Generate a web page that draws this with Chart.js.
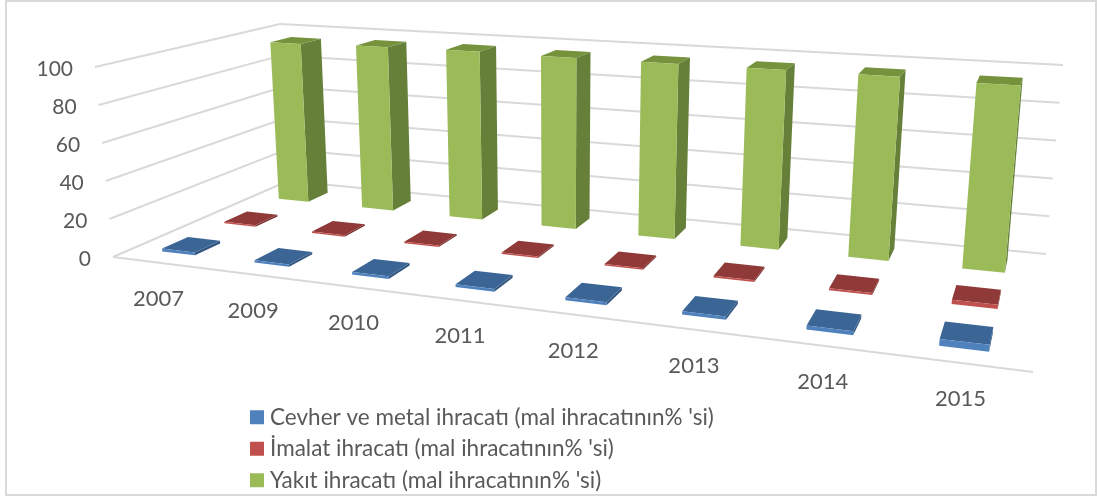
<!DOCTYPE html>
<html>
<head>
<meta charset="utf-8">
<style>
  html, body { margin: 0; padding: 0; background: #fff; }
  canvas { display: block; }
</style>
<script src="https://cdn.jsdelivr.net/npm/chart.js@4"></script>
</head>
<body>
<canvas id="exportChart" width="1097" height="497"></canvas>
<script>
const years = ['2007', '2009', '2010', '2011', '2012', '2013', '2014', '2015'];
const oreMetal = [1.5, 1.2, 1.3, 1.3, 1.5, 1.5, 1.8, 3.0];
const manufactures = [0.9, 0.8, 0.8, 0.8, 0.8, 0.9, 1.0, 2.0];
const fuel = [95, 96, 96.5, 96, 96, 96, 96, 95];

const seriesNames = [
    'Cevher ve metal ihracatı (mal ihracatının% \'si)',
    'İmalat ihracatı (mal ihracatının% \'si)',
    'Yakıt ihracatı (mal ihracatının% \'si)'
];
const frontColors = ['#4f81bd', '#c0504d', '#9bbb59'];
const topColors = ['#3b6595', '#8f3a38', '#76923c'];
const sideColors = ['#335780', '#7a3130', '#66803a'];

const gridColor = '#d9d9d9';
const textColor = '#595959';
const fontFamily = 'Lato';

// corners of the 3d box on screen: front left, front right, back right, back left
const floorQuad = [[113, 257], [1033, 372], [1046, 254], [288, 181]];
const roofQuad = [[95, 67], [1057, 133], [1063, 65], [280, 24]];

function makeHomography(q) {
    const [x0, y0] = q[0], [x1, y1] = q[1], [x2, y2] = q[2], [x3, y3] = q[3];
    const dx1 = x1 - x2, dx2 = x3 - x2, sx = x0 - x1 + x2 - x3;
    const dy1 = y1 - y2, dy2 = y3 - y2, sy = y0 - y1 + y2 - y3;
    const det = dx1 * dy2 - dx2 * dy1;
    const g = (sx * dy2 - dx2 * sy) / det;
    const h = (dx1 * sy - sx * dy1) / det;
    const a = x1 - x0 + g * x1, b = x3 - x0 + h * x3;
    const d = y1 - y0 + g * y1, e = y3 - y0 + h * y3;
    return function (u, v) {
        const w = g * u + h * v + 1;
        return [(a * u + b * v + x0) / w, (d * u + e * v + y0) / w];
    };
}

const floorMap = makeHomography(floorQuad);
const roofMap = makeHomography(roofQuad);

// u across the years, v into the depth, t height from 0 to 1
function project(u, v, t) {
    const p = floorMap(u, v), q = roofMap(u, v);
    return [p[0] + (q[0] - p[0]) * t, p[1] + (q[1] - p[1]) * t];
}

function fillFace(ctx, pts, color) {
    ctx.beginPath();
    pts.forEach((p, i) => i ? ctx.lineTo(p[0], p[1]) : ctx.moveTo(p[0], p[1]));
    ctx.closePath();
    ctx.fillStyle = color;
    ctx.fill();
}

function strokeLine(ctx, a, b) {
    ctx.beginPath();
    ctx.moveTo(a[0], a[1]);
    ctx.lineTo(b[0], b[1]);
    ctx.stroke();
}

const box3d = {
    id: 'box3d',
    afterLayout(chart) {
        // stack the legend under the floor
        const lg = chart.legend;
        const w = lg.width, h = lg.height;
        lg.left = 246.2; lg.right = lg.left + w;
        lg.top = 397; lg.bottom = lg.top + h;
    },
    beforeDatasetsDraw(chart) {
        const ctx = chart.ctx, area = chart.chartArea;
        const xs = chart.scales.x, ys = chart.scales.y;
        const toT = v => (area.bottom - ys.getPixelForValue(v)) / area.height;

        ctx.save();
        // outer frame
        ctx.strokeStyle = gridColor;
        ctx.lineWidth = 2;
        ctx.strokeRect(6, 1, 1090, 494);

        // walls
        ctx.lineWidth = 2;
        ys.ticks.forEach(tick => {
            const t = toT(tick.value);
            const a = project(0, 0, t), b = project(0, 1, t), c = project(1, 1, t);
            strokeLine(ctx, a, b);
            strokeLine(ctx, b, c);
            ctx.fillStyle = textColor;
            ctx.font = '21px ' + fontFamily;
            ctx.textAlign = 'right';
            ctx.textBaseline = 'middle';
            ctx.fillText(tick.label, a[0] - 22, a[1] + 2.5);
        });
        strokeLine(ctx, project(0, 0, 0), project(1, 0, 0));

        // bars, back row first
        const rows = chart.data.datasets.length;
        for (let s = rows - 1; s >= 0; s--) {
            const vFront = (s + 0.3) / rows, vBack = (s + 0.7) / rows;
            chart.getDatasetMeta(s).data.forEach(bar => {
                const uc = (bar.x - area.left) / area.width;
                const half = bar.width / area.width / 2;
                const l = uc - half, r = uc + half;
                const t = (area.bottom - bar.y) / area.height;
                fillFace(ctx, [project(r, vFront, 0), project(r, vBack, 0), project(r, vBack, t), project(r, vFront, t)], sideColors[s]);
                fillFace(ctx, [project(l, vFront, t), project(r, vFront, t), project(r, vBack, t), project(l, vBack, t)], topColors[s]);
                fillFace(ctx, [project(l, vFront, 0), project(r, vFront, 0), project(r, vFront, t), project(l, vFront, t)], frontColors[s]);
            });
        }

        // year labels hang below the front edge
        ctx.fillStyle = textColor;
        ctx.font = '22px ' + fontFamily;
        ctx.textAlign = 'center';
        ctx.textBaseline = 'middle';
        xs.getLabels().forEach((label, i) => {
            const u = (xs.getPixelForValue(i) - area.left) / area.width;
            const p = project(u, 0, 0);
            ctx.fillText(label, p[0], p[1] + 36);
        });
        ctx.restore();
        return false;
    }
};

new Chart(document.getElementById('exportChart').getContext('2d'), {
    type: 'bar',
    data: {
        labels: years,
        datasets: [oreMetal, manufactures, fuel].map((values, i) => ({
            label: seriesNames[i],
            data: values,
            backgroundColor: frontColors[i],
            borderWidth: 0,
            grouped: false,
            barPercentage: 0.36,
            categoryPercentage: 1
        }))
    },
    options: {
        responsive: false,
        animation: false,
        scales: {
            x: { display: false },
            y: { display: false, min: 0, max: 100, ticks: { stepSize: 20 } }
        },
        plugins: {
            title: { display: false },
            tooltip: { enabled: false },
            legend: {
                position: 'right',
                align: 'start',
                labels: {
                    color: textColor,
                    font: { family: fontFamily, size: 22.5 },
                    usePointStyle: true,
                    pointStyle: 'rect',
                    boxWidth: 3.6,
                    boxHeight: 14,
                    padding: 9
                }
            }
        }
    },
    plugins: [box3d]
});
</script>
</body>
</html>
